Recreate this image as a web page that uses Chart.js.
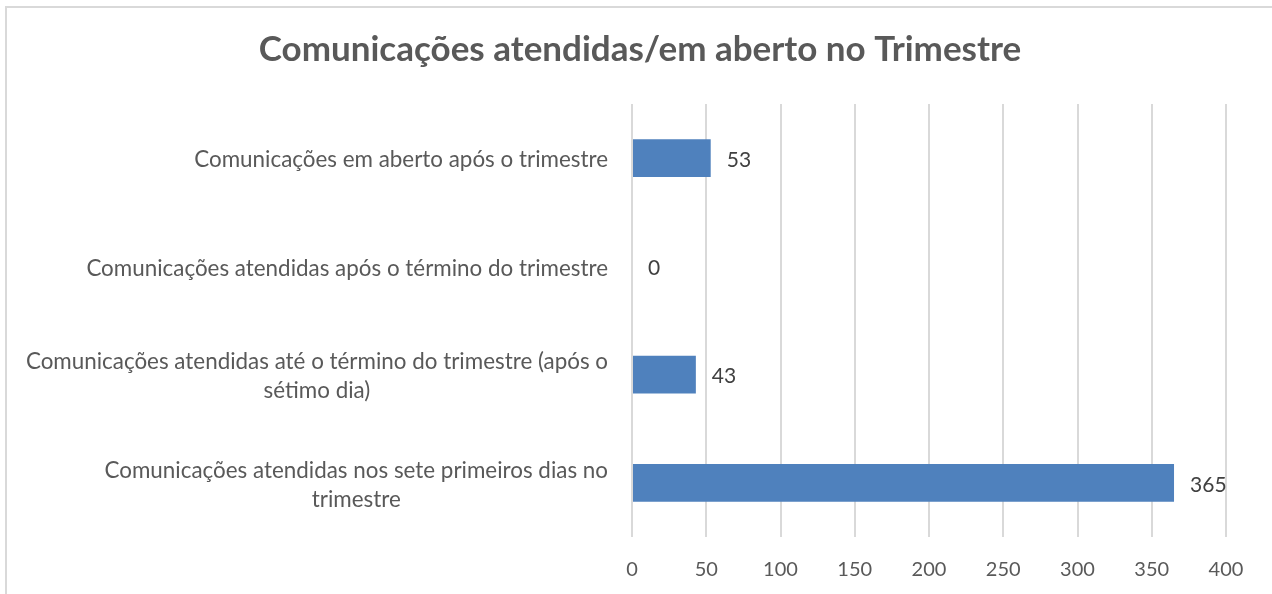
<!DOCTYPE html>
<html>
<head>
<meta charset="utf-8">
<script src="https://cdn.jsdelivr.net/npm/chart.js@4"></script>
<style>
  html, body { margin: 0; padding: 0; background: #ffffff; overflow: hidden; }
  #frame { position: absolute; left: 5px; top: 6px; width: 1300px; height: 620px; border: 2px solid #d9d9d9; box-sizing: border-box; }
  #wrap { position: absolute; left: 0; top: 0; width: 1272px; height: 594px; }
</style>
</head>
<body>
<div id="frame"></div>
<div id="wrap"><canvas id="c" width="1272" height="594"></canvas></div>
<script>
const titleText = 'Comunicações atendidas/em aberto no Trimestre';
const categories = [
  ['Comunicações em aberto após o trimestre'],
  ['Comunicações atendidas após o término do trimestre'],
  ['Comunicações atendidas até o término do trimestre (após o', 'sétimo dia)'],
  ['Comunicações atendidas nos sete primeiros dias no', 'trimestre']
];
const values = [53, 0, 43, 365];
const xTicks = [0, 50, 100, 150, 200, 250, 300, 350, 400];

const FONT = 'Lato, "Open Sans", sans-serif';

const catLabelPlugin = {
  id: 'catLabels',
  afterDraw(chart) {
    const ctx = chart.ctx;
    const y = chart.scales.y;
    ctx.save();
    ctx.font = '22.4px ' + FONT;
    ctx.fillStyle = '#595959';
    ctx.textAlign = 'center';
    ctx.textBaseline = 'middle';
    const rightEdge = chart.chartArea.left - 24;
    const lh = 29;
    categories.forEach((lines, i) => {
      const cy = y.getPixelForValue(i);
      const maxW = Math.max(...lines.map(l => ctx.measureText(l).width));
      const cx = rightEdge - maxW / 2;
      const startY = cy - (lines.length - 1) * lh / 2 + 2;
      lines.forEach((l, j) => ctx.fillText(l, cx, startY + j * lh));
    });
    // value labels
    ctx.font = '21px ' + FONT;
    ctx.fillStyle = '#404040';
    ctx.textAlign = 'left';
    const meta = chart.getDatasetMeta(0);
    meta.data.forEach((bar, i) => {
      ctx.fillText(String(values[i]), bar.x + 16, bar.y + 2);
    });
    ctx.restore();
  }
};

new Chart(document.getElementById('c'), {
  type: 'bar',
  data: {
    labels: categories.map(l => l.join(' ')),
    datasets: [{
      data: values,
      backgroundColor: '#4f81bd',
      borderWidth: 0,
      categoryPercentage: 1,
      barPercentage: 0.35
    }]
  },
  options: {
    indexAxis: 'y',
    responsive: false,
    animation: false,
    devicePixelRatio: 1,
    layout: { padding: { left: 54, right: 46, top: 0, bottom: 0 } },
    plugins: {
      legend: { display: false },
      tooltip: { enabled: false },
      title: {
        display: true,
        text: titleText,
        color: '#595959',
        font: { family: FONT, size: 35, weight: 'bold', lineHeight: 1.2 },
        padding: { top: 29, bottom: 33 }
      }
    },
    scales: {
      x: {
        min: 0,
        max: 400,
        afterBuildTicks(scale) { scale.ticks = xTicks.map(v => ({ value: v })); },
        afterFit(scale) { scale.height = 57; },
        grid: { color: '#d9d9d9', lineWidth: 2, drawTicks: false },
        border: { display: false },
        ticks: { color: '#595959', padding: 21, font: { family: FONT, size: 20 } }
      },
      y: {
        afterFit(scale) { scale.width = 578; },
        grid: { display: false },
        border: { display: false },
        ticks: { display: false }
      }
    }
  },
  plugins: [catLabelPlugin]
});
</script>
</body>
</html>
